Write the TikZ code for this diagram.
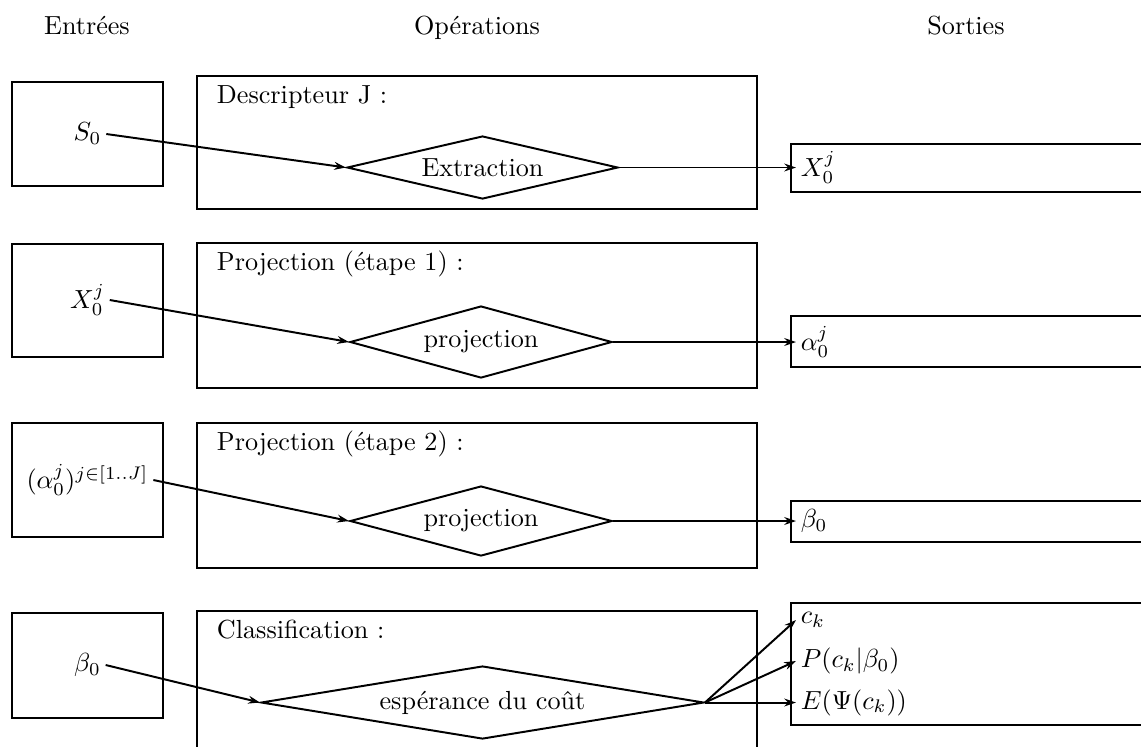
\documentclass[tikz,border=0pt]{standalone}
\usetikzlibrary{shapes.geometric,arrows.meta}

\newlength{\px}
\setlength{\px}{0.3824pt}

\tikzset{
    choice/.style={draw, diamond, aspect=6, inner sep=0pt},
    val/.style={inner sep=1.5pt},
    optitle/.style={anchor=base west, inner sep=0pt, xshift=19\px, yshift=-27\px},
    flow/.style={-{Stealth[length=4.5pt,width=3pt]}},
}

\begin{document}
\begin{tikzpicture}[x=1\px, y=-1\px, line width=0.75pt]
    \useasboundingbox (0,0) rectangle (1141,746);
    \clip (0,0) rectangle (1141,746);

    % Column headers
    \node[anchor=base] (hin) at (87,34) {Entrées};
    \node[anchor=base] (hop) at (477,34) {Opérations};
    \node[anchor=base] (hout) at (966,34) {Sorties};

    % Row 1: descripteur
    \draw (12,82) rectangle (163,186);
    \draw (197,76) rectangle (757,209);
    \draw (791,144) rectangle (1145,192);
    \node[val] (s0) at (87.5,134) {$S_0$};
    \node[optitle] (t1) at (197,76) {Descripteur J :};
    \node[choice, minimum width=271\px, minimum height=63\px] (d1) at (482.5,167.5) {Extraction};
    \node[val, anchor=west] (x0) at (796,167.5) {$X_0^j$};
    \draw[flow] (s0.east) -- (d1.west);
    \draw[flow] (d1.east) -- (x0.west);

    % Row 2: projection, first step
    \draw (12,244) rectangle (163,357);
    \draw (197,243) rectangle (757,388);
    \draw (791,316) rectangle (1145,367);
    \node[val] (x0in) at (87.5,300) {$X_0^j$};
    \node[optitle] (t2) at (197,243) {Projection (étape 1) :};
    \node[choice, minimum width=262\px, minimum height=72\px] (d2) at (481,342) {projection};
    \node[val, anchor=west] (a0) at (796,342) {$\alpha_0^j$};
    \draw[flow] (x0in.east) -- (d2.west);
    \draw[flow] (d2.east) -- (a0.west);

    % Row 3: projection, second step
    \draw (12,423) rectangle (163,537);
    \draw (197,423) rectangle (757,568);
    \draw (791,501) rectangle (1145,542);
    \node[val] (a0in) at (87.5,480) {$(\alpha_0^j)^{j\in[1..J]}$};
    \node[optitle] (t3) at (197,423) {Projection (étape 2) :};
    \node[choice, minimum width=262\px, minimum height=70\px] (d3) at (481,521) {projection};
    \node[val, anchor=west] (b0) at (796,521) {$\beta_0$};
    \draw[flow] (a0in.east) -- (d3.west);
    \draw[flow] (d3.east) -- (b0.west);

    % Row 4: classification
    \draw (12,613) rectangle (163,718);
    \draw (197,611) rectangle (757,756);
    \draw (791,603) rectangle (1145,725);
    \node[val] (b0in) at (87.5,665) {$\beta_0$};
    \node[optitle] (t4) at (197,611) {Classification :};
    \node[choice, minimum width=443\px, minimum height=73\px] (d4) at (482.5,702.5) {espérance du coût};
    \node[val, anchor=west] (ck) at (796,620) {$c_k$};
    \node[val, anchor=west] (pk) at (796,661) {$P(c_k|\beta_0)$};
    \node[val, anchor=west] (ek) at (796,702.5) {$E(\Psi(c_k))$};
    \draw[flow] (b0in.east) -- (d4.west);
    \foreach \o in {ck,pk,ek}
        \draw[flow] (d4.east) -- (\o.west);

\end{tikzpicture}
\end{document}
